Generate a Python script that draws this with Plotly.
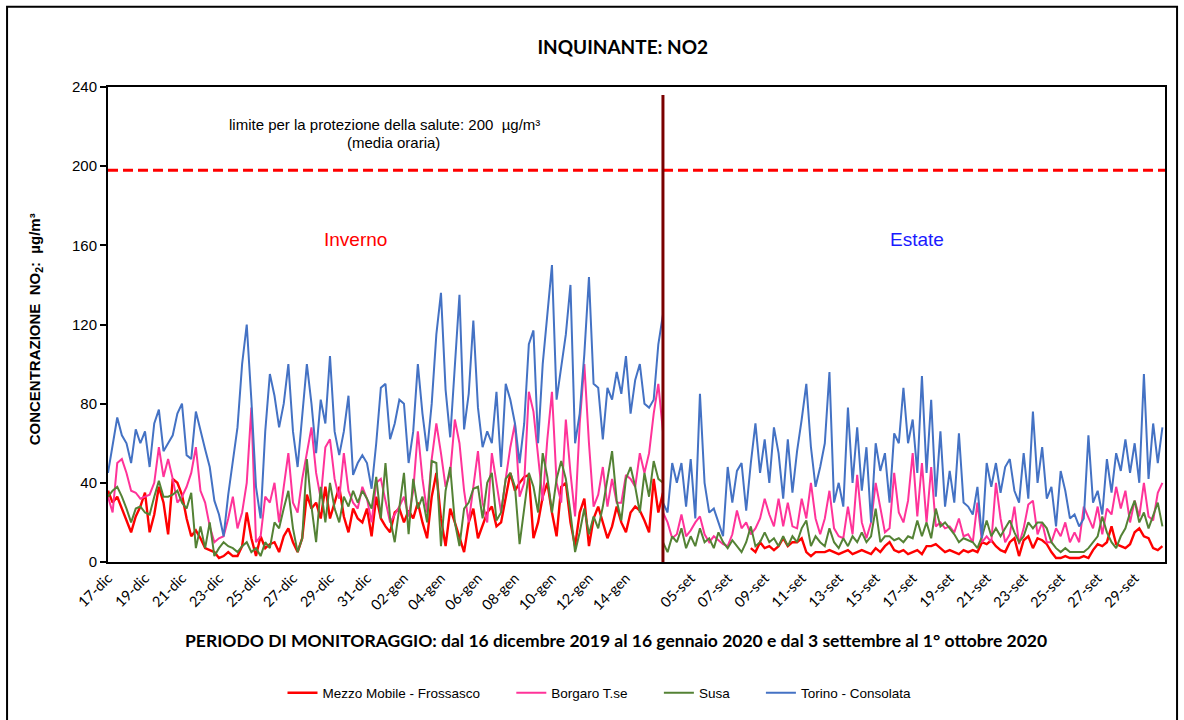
import datetime as dt
import plotly.graph_objects as go

# ---------------- DATA ----------------
STEP_HOURS = 6  # one value every 6 hours
WINTER_START = dt.datetime(2019, 12, 17, 0)
SUMMER_START = dt.datetime(2020, 9, 3, 12)

series_names = ["Mezzo Mobile - Frossasco", "Borgaro T.se", "Susa", "Torino - Consolata"]
series_colors = ["#FF0000", "#FF3399", "#548235", "#4472C4"]
series_widths = [2.4, 2, 2, 2]

# Winter (17 Dec 2019 -> 16 Jan 2020)
frossasco_w = [36, 30, 33, 27, 20, 15, 23, 28, 35, 15, 24, 38, 30, 14, 42, 40, 34, 22, 13, 16,
               12, 7, 6, 5, 2, 3, 5, 3, 3, 8, 25, 12, 3, 13, 7, 9, 10, 5, 13, 17,
               10, 5, 12, 34, 27, 30, 22, 38, 22, 30, 38, 23, 15, 27, 22, 20, 27, 13, 33, 22,
               18, 15, 25, 27, 20, 26, 22, 30, 20, 12, 33, 45, 22, 8, 27, 20, 12, 5, 20, 27,
               12, 18, 25, 28, 18, 20, 32, 45, 36, 40, 43, 44, 12, 20, 33, 40, 25, 13, 38, 40,
               20, 8, 25, 32, 8, 22, 28, 20, 12, 18, 28, 20, 15, 25, 28, 26, 21, 15, 42, 25, 35]
borgaro_w = [33, 25, 50, 52, 45, 36, 35, 32, 33, 34, 40, 58, 43, 52, 42, 30, 33, 38, 45, 58,
             36, 30, 18, 10, 12, 13, 22, 33, 17, 25, 40, 78, 10, 13, 33, 30, 40, 20, 38, 55,
             30, 25, 42, 55, 68, 45, 32, 58, 62, 42, 32, 55, 36, 30, 27, 38, 32, 20, 40, 42,
             30, 20, 24, 28, 33, 23, 36, 66, 42, 25, 52, 70, 55, 38, 45, 72, 60, 36, 20, 38,
             56, 30, 20, 55, 40, 25, 42, 58, 70, 33, 40, 86, 76, 52, 31, 62, 86, 40, 30, 72,
             45, 23, 70, 100, 60, 28, 34, 48, 28, 42, 30, 30, 44, 42, 38, 55, 45, 55, 75, 90, 66]
susa_w = [33, 36, 38, 33, 27, 20, 27, 28, 25, 24, 33, 41, 33, 33, 34, 36, 30, 27, 35, 7,
          18, 7, 20, 3, 7, 10, 8, 7, 5, 8, 10, 5, 7, 3, 10, 7, 20, 17, 27, 36,
          17, 5, 12, 52, 28, 10, 38, 20, 40, 27, 20, 33, 28, 36, 30, 36, 32, 27, 43, 22,
          50, 22, 10, 27, 45, 14, 42, 27, 33, 20, 51, 50, 8, 36, 48, 20, 8, 27, 30, 37,
          38, 22, 40, 45, 21, 25, 42, 45, 38, 9, 28, 45, 38, 25, 55, 43, 25, 42, 51, 42,
          25, 5, 15, 27, 14, 23, 17, 28, 42, 56, 31, 21, 42, 48, 38, 25, 45, 33, 51, 42, 40]
torino_w = [45, 58, 73, 64, 60, 50, 67, 60, 66, 48, 70, 77, 56, 60, 64, 75, 80, 54, 52, 76,
            66, 57, 48, 31, 24, 13, 34, 50, 68, 100, 120, 82, 38, 22, 66, 95, 84, 68, 80, 100,
            66, 48, 74, 100, 80, 55, 82, 70, 104, 66, 54, 66, 84, 44, 50, 54, 50, 37, 60, 88,
            90, 62, 70, 82, 80, 50, 66, 100, 75, 56, 80, 115, 136, 87, 63, 100, 135, 67, 85, 122,
            78, 58, 66, 60, 86, 48, 90, 82, 70, 50, 70, 110, 117, 60, 100, 125, 150, 82, 98, 115,
            140, 60, 75, 105, 144, 90, 88, 62, 88, 82, 96, 85, 104, 75, 92, 100, 80, 78, 82, 110, 125]

# Summer (3 Sep 2020 -> 1 Oct 2020); None = no data
frossasco_s = [None] * 19 + [7, 5, 10, 7, 8, 6, 8, 12, 8, 10, 10, 12, 5, 3, 5, 5, 5, 6, 5, 4,
               5, 6, 4, 5, 6, 5, 4, 7, 5, 8, 10, 6, 5, 6, 4, 5, 6, 4, 8, 8,
               9, 7, 5, 6, 5, 4, 6, 5, 6, 5, 10, 9, 11, 8, 6, 5, 10, 12, 3, 11,
               13, 7, 12, 11, 9, 5, 2, 2, 3, 2, 2, 2, 3, 2, 6, 9, 8, 10, 18, 9,
               8, 7, 9, 15, 17, 13, 12, 7, 6, 8]
borgaro_s = [25, 20, 12, 14, 24, 13, 16, 20, 23, 14, 10, 13, 11, 9, 8, 14, 26, 17, 20, 14,
             17, 22, 32, 24, 18, 32, 18, 30, 18, 17, 32, 22, 40, 22, 14, 22, 36, 17, 13, 12,
             28, 14, 44, 20, 12, 20, 40, 27, 15, 17, 45, 25, 20, 31, 55, 23, 50, 20, 48, 18,
             20, 17, 18, 15, 22, 13, 14, 10, 30, 10, 13, 10, 40, 22, 10, 14, 28, 9, 17, 29,
             31, 14, 20, 10, 10, 17, 13, 20, 10, 15, 10, 28, 22, 17, 28, 14, 27, 24, 38, 27,
             36, 20, 31, 23, 40, 23, 21, 35, 40]
susa_s = [10, 5, 13, 10, 17, 7, 13, 8, 17, 10, 12, 7, 15, 10, 7, 11, 8, 5, 10, 18,
          8, 10, 15, 10, 12, 8, 13, 8, 13, 10, 17, 21, 8, 13, 10, 8, 17, 10, 7, 12,
          8, 13, 10, 15, 10, 13, 27, 10, 13, 13, 11, 12, 10, 13, 12, 21, 13, 20, 12, 27,
          18, 20, 17, 14, 10, 12, 11, 10, 7, 13, 21, 13, 17, 13, 17, 21, 15, 10, 13, 20,
          17, 20, 20, 17, 10, 7, 5, 7, 5, 5, 5, 5, 7, 10, 13, 23, 15, 10, 7, 13,
          17, 25, 31, 20, 25, 17, 23, 30, 18]
torino_s = [30, 25, 50, 40, 50, 28, 52, 22, 85, 40, 25, 27, 20, 13, 48, 30, 46, 50, 26, 50,
            70, 45, 62, 40, 68, 55, 32, 62, 35, 56, 72, 90, 58, 38, 48, 60, 96, 30, 40, 28,
            78, 40, 68, 36, 58, 20, 60, 46, 55, 30, 65, 60, 88, 60, 72, 45, 94, 45, 82, 33,
            66, 28, 46, 30, 65, 30, 28, 24, 38, 12, 50, 38, 50, 35, 48, 52, 36, 30, 55, 32,
            76, 40, 58, 32, 38, 18, 46, 36, 22, 24, 18, 22, 64, 30, 36, 24, 52, 35, 55, 46,
            62, 45, 60, 40, 95, 42, 70, 50, 68]

winter_tick_labels = ["17-dic", "19-dic", "21-dic", "23-dic", "25-dic", "27-dic", "29-dic", "31-dic",
                      "02-gen", "04-gen", "06-gen", "08-gen", "10-gen", "12-gen", "14-gen"]
summer_tick_labels = ["05-set", "07-set", "09-set", "11-set", "13-set", "15-set", "17-set",
                      "19-set", "21-set", "23-set", "25-set", "27-set", "29-set"]

LIMIT_VALUE = 198
MONTHS = {"dic": (2019, 12), "gen": (2020, 1), "set": (2020, 9)}

# ---------------- POSITIONS (days on a joined axis) ----------------
step_days = STEP_HOURS / 24.0
winter_len = (len(torino_w) - 1) * step_days
summer_len = (len(torino_s) - 1) * step_days
summer_offset = winter_len
x_end = summer_offset + summer_len + 0.14


def day_pos(label, start, offset):
    d, m = label.split("-")
    y, mo = MONTHS[m]
    t = dt.datetime(y, mo, int(d))
    return offset + (t - start).total_seconds() / 86400.0


tickvals = [day_pos(l, WINTER_START, 0.0) for l in winter_tick_labels] + \
           [day_pos(l, SUMMER_START, summer_offset) for l in summer_tick_labels]
ticktext = winter_tick_labels + summer_tick_labels

NBSP = "\u00a0"
legend_pad = [NBSP * 7, NBSP * 7, NBSP * 7, ""]

fig = go.Figure()
all_series = [(frossasco_w, frossasco_s), (borgaro_w, borgaro_s), (susa_w, susa_s), (torino_w, torino_s)]
for (w, s), name, color, lw, pad in zip(all_series, series_names, series_colors, series_widths, legend_pad):
    xw = [i * step_days for i in range(len(w))]
    xs = [summer_offset + i * step_days for i in range(len(s))]
    fig.add_trace(go.Scatter(
        x=xw + [None] + xs, y=w + [None] + s, mode="lines", name=name + pad,
        line=dict(color=color, width=lw), connectgaps=False,
    ))

ARIAL = "Liberation Sans, Arial, sans-serif"
CAL = "Lato, Carlito, Calibri, sans-serif"

# limit line
fig.add_shape(type="line", xref="paper", yref="y", x0=0, x1=1, y0=LIMIT_VALUE, y1=LIMIT_VALUE,
              line=dict(color="#FF0000", width=3, dash="10px,5px"))
# winter/summer divider
fig.add_shape(type="line", xref="x", yref="y", x0=summer_offset, x1=summer_offset, y0=0, y1=236,
              line=dict(color="#7B0000", width=3))
# outer chart border
fig.add_shape(type="rect", xref="paper", yref="paper", x0=-0.0955, x1=1.0114, y0=-0.34, y1=1.169,
              line=dict(color="black", width=2), layer="below")

annotations = [
    dict(text="limite per la protezione della salute: 200  µg/m³", xref="paper", yref="y",
         x=0.262, y=221, xanchor="center", yanchor="middle", showarrow=False,
         font=dict(family=ARIAL, size=15, color="black")),
    dict(text="(media oraria)", xref="paper", yref="y", x=0.27, y=212, xanchor="center",
         yanchor="middle", showarrow=False, font=dict(family=ARIAL, size=15, color="black")),
    dict(text="Inverno", xref="paper", yref="y", x=0.234, y=163, xanchor="center", yanchor="middle",
         showarrow=False, font=dict(family=ARIAL, size=19, color="#FF0000")),
    dict(text="Estate", xref="paper", yref="y", x=0.765, y=163, xanchor="center", yanchor="middle",
         showarrow=False, font=dict(family=ARIAL, size=19, color="#1A1AFF")),
    dict(text="<b>CONCENTRAZIONE  NO<sub>2</sub>:  µg/m³</b>", xref="paper", yref="paper",
         x=-0.069, y=0.49, xanchor="center", yanchor="middle", textangle=-90, showarrow=False,
         font=dict(family=ARIAL, size=15, color="black")),
    dict(text="<b>PERIODO DI MONITORAGGIO: dal 16 dicembre 2019 al 16 gennaio 2020 e dal 3 settembre al 1° ottobre 2020</b>",
         xref="paper", yref="paper", x=0.481, y=-0.165, xanchor="center", yanchor="middle",
         showarrow=False, font=dict(family=CAL, size=17.5, color="black")),
]

fig.update_layout(
    width=1184, height=720,
    margin=dict(l=108, r=19, t=87, b=154),
    paper_bgcolor="white", plot_bgcolor="white",
    title=dict(text="<b>INQUINANTE: NO2</b>", x=0.487, xref="paper", y=1 - 47 / 720, yref="container",
               xanchor="center", yanchor="middle", font=dict(family=CAL, size=19, color="black")),
    annotations=annotations,
    showlegend=True,
    legend=dict(orientation="h", x=0.465, xanchor="center", y=-0.2756, yanchor="middle",
                font=dict(family=ARIAL, size=13.5, color="black"), bgcolor="rgba(0,0,0,0)",
                itemwidth=30),
    xaxis=dict(range=[0, x_end], tickvals=tickvals, ticktext=ticktext, tickangle=-45,
               tickfont=dict(family=CAL, size=14.5, color="black"), ticks="",
               showline=True, linecolor="black", linewidth=2, mirror=True,
               showgrid=False, zeroline=False, fixedrange=True),
    yaxis=dict(range=[0, 240], tickvals=[0, 40, 80, 120, 160, 200, 240], ticks="outside",
               ticklen=6, tickwidth=1.5, tickcolor="black",
               tickfont=dict(family=ARIAL, size=15, color="black"),
               showline=True, linecolor="black", linewidth=2, mirror=True,
               showgrid=False, zeroline=False, fixedrange=True),
)

fig.write_html("out.html", config={"displayModeBar": False},
               post_script="document.body.style.margin='0px';document.body.style.overflow='hidden';")
